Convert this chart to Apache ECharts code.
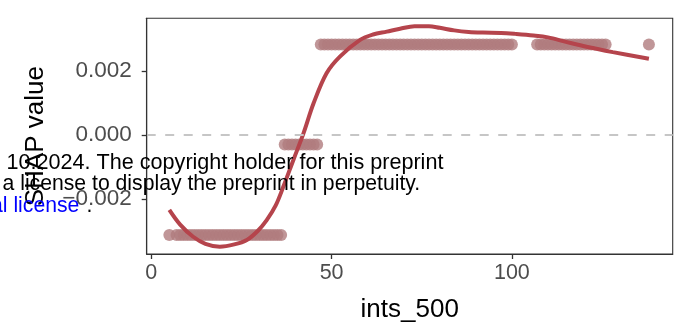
<!DOCTYPE html>
<html>
<head>
<meta charset="utf-8">
<script src="https://cdn.jsdelivr.net/npm/echarts@6/dist/echarts.min.js"></script>
<style>
  html, body { margin: 0; padding: 0; background: #fff; }
  #chart { width: 681px; height: 335px; }
</style>
</head>
<body>
<div id="chart"></div>
<script>
// SHAP dependence of the ints_500 feature: one value per observed integer level
const lowX = [5].concat(Array.from({ length: 30 }, (_, i) => i + 7));      // 5, 7..36
const lowShap = -0.003125;
const midX = [37, 38, 39, 40, 41, 42, 43, 44, 45, 46];
const midShap = -0.0003;
const highX = Array.from({ length: 54 }, (_, i) => i + 47)                  // 47..100
  .concat(Array.from({ length: 20 }, (_, i) => i + 107))                    // 107..126
  .concat([138]);
const highShap = 0.00283;

// loess-style trend through the points
const trendX = [5, 8, 11.6, 15, 19, 23, 26.5, 29.5, 32, 34.5, 36.6, 39.4, 42.2, 45, 48.6, 52.3,
  57.9, 61.5, 65.3, 69, 73, 77, 80, 84, 88, 92, 97, 101, 106, 110, 115, 121, 128, 138];
const trendY = [-0.00234, -0.0028, -0.00318, -0.0034, -0.00349, -0.00342, -0.00328, -0.003,
  -0.00266, -0.0022, -0.00162, -0.00078, 0.00005, 0.00099, 0.00193, 0.00245, 0.00297, 0.00314,
  0.00323, 0.00332, 0.0034, 0.0034, 0.00335, 0.00327, 0.00322, 0.0032, 0.00319, 0.00316,
  0.00311, 0.00305, 0.00291, 0.00275, 0.00259, 0.00238];

const xTicks = [0, 50, 100];
const yTicks = [-0.002, 0, 0.002];

const points = []
  .concat(lowX.map(x => [x, lowShap]))
  .concat(midX.map(x => [x, midShap]))
  .concat(highX.map(x => [x, highShap]));
const trend = trendX.map((x, i) => [x, trendY[i]]);

const fmtY = v => (v < 0 ? '\u2212' : '') + Math.abs(v).toFixed(3);
const font = '"Liberation Sans", Arial, sans-serif';
const noteFont = '21.2px ' + font;

const chart = echarts.init(document.getElementById('chart'), null, { renderer: 'canvas' });
chart.setOption({
  animation: false,
  grid: {
    left: 146.7, top: 18.3, width: 526, height: 235.7,
    show: true, borderColor: '#333333', borderWidth: 1.1
  },
  xAxis: {
    type: 'value', min: -1.28, max: 144.6, z: 10,
    name: 'ints_500', nameLocation: 'middle', nameGap: 43,
    nameTextStyle: { fontFamily: font, fontSize: 26, color: '#000' },
    axisLine: { show: true, onZero: false, lineStyle: { color: '#333333', width: 1.1 } },
    splitLine: { show: false },
    axisTick: { show: true, customValues: xTicks, length: 5, lineStyle: { color: '#333333', width: 1.3 } },
    axisLabel: { customValues: xTicks, fontFamily: font, fontSize: 21.5, color: '#4d4d4d', margin: 8 }
  },
  yAxis: {
    type: 'value', min: -0.00372, max: 0.003647, z: 10,
    name: 'SHAP value', nameLocation: 'middle', nameGap: 98, nameRotate: 90,
    nameTextStyle: { fontFamily: font, fontSize: 26, color: '#000' },
    axisLine: { show: true, onZero: false, lineStyle: { color: '#333333', width: 1.1 } },
    splitLine: { show: false },
    axisTick: { show: true, customValues: yTicks, length: 5, lineStyle: { color: '#333333', width: 1.3 } },
    axisLabel: { customValues: yTicks, formatter: fmtY, fontFamily: font, fontSize: 22.5, color: '#4d4d4d', margin: 15 }
  },
  series: [
    {
      type: 'scatter',
      data: points,
      symbolSize: 12,
      itemStyle: { color: '#b07c7e' },
      markLine: {
        silent: true, symbol: 'none', label: { show: false },
        lineStyle: { color: '#c6c6c6', type: [9, 9.5], width: 2 },
        data: [{ yAxis: 0 }]
      },
      z: 2
    },
    {
      type: 'line',
      data: trend,
      smooth: 0.35,
      showSymbol: false,
      lineStyle: { color: '#b5444c', width: 4 },
      z: 3
    }
  ],
  graphic: [
    { type: 'text', left: 6.5, top: 152.3, z: 100,
      style: { text: '10.2024. The copyright holder for this preprint', font: '21.6px ' + font, fill: '#000' } },
    { type: 'text', left: 2.5, top: 174, z: 100,
      style: { text: 'a license to display the preprint in perpetuity.', font: noteFont, fill: '#000' } },
    { type: 'text', left: -9, top: 195.5, z: 100,
      style: { text: 'al license', font: noteFont, fill: '#0000ff' } },
    { type: 'text', left: 80.5, top: 195.5, z: 100,
      style: { text: ' .', font: noteFont, fill: '#000' } }
  ]
});
</script>
</body>
</html>
